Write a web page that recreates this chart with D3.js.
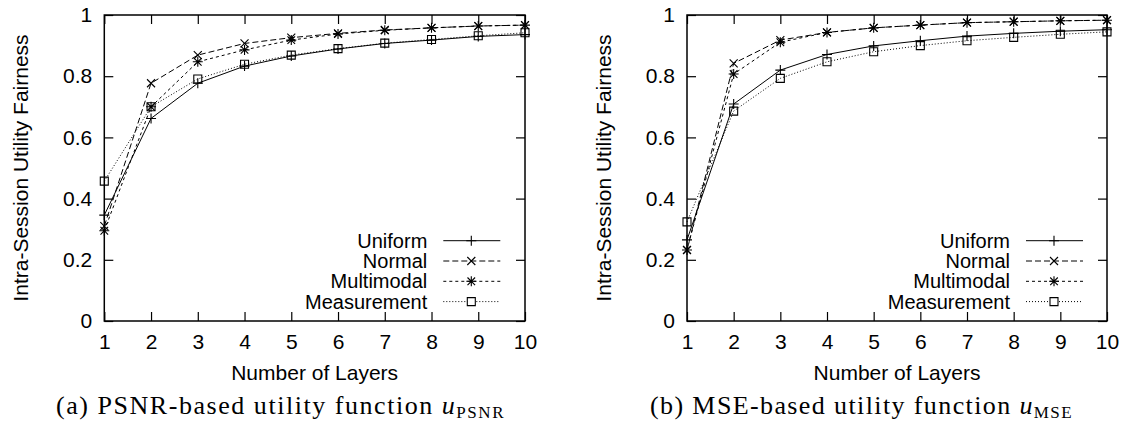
<!DOCTYPE html>
<html>
<head>
<meta charset="utf-8">
<script src="https://cdn.jsdelivr.net/npm/d3@7"></script>
<style>
  html, body { margin: 0; padding: 0; background: #fff; }
  svg { display: block; }
  text { font-family: "Liberation Sans", Arial, Helvetica, sans-serif; fill: #000; }
  text.caption { font-family: "Liberation Serif", "Times New Roman", serif; }
</style>
</head>
<body>
<svg id="chart" width="1127" height="430"></svg>
<script>
// Number of layers on the x axis
const layers = [1, 2, 3, 4, 5, 6, 7, 8, 9, 10];
const seriesNames = ["Uniform", "Normal", "Multimodal", "Measurement"];
const yTickValues = [0, 0.2, 0.4, 0.6, 0.8, 1];

// (a) PSNR-based utility: intra-session utility fairness per layer count
const psnrUniform     = [0.346, 0.662, 0.777, 0.833, 0.866, 0.889, 0.907, 0.918, 0.930, 0.936];
const psnrNormal      = [0.310, 0.777, 0.869, 0.907, 0.926, 0.940, 0.951, 0.958, 0.964, 0.967];
const psnrMultimodal  = [0.295, 0.700, 0.847, 0.886, 0.918, 0.938, 0.950, 0.958, 0.964, 0.967];
const psnrMeasurement = [0.457, 0.700, 0.791, 0.839, 0.869, 0.890, 0.908, 0.920, 0.932, 0.942];

// (b) MSE-based utility
const mseUniform     = [0.265, 0.709, 0.820, 0.871, 0.899, 0.916, 0.931, 0.940, 0.947, 0.952];
const mseNormal      = [0.232, 0.842, 0.918, 0.943, 0.958, 0.967, 0.975, 0.978, 0.981, 0.983];
const mseMultimodal  = [0.232, 0.807, 0.911, 0.943, 0.958, 0.967, 0.975, 0.978, 0.981, 0.983];
const mseMeasurement = [0.324, 0.686, 0.793, 0.847, 0.880, 0.900, 0.916, 0.927, 0.937, 0.945];

// Line / point style per series (gnuplot-like)
const lineStyles = [
  { dash: null,  marker: "plus" },
  { dash: "6,3", marker: "cross" },
  { dash: "3,3", marker: "star" },
  { dash: "1,2", marker: "square" }
];

const markerPaths = {
  plus:   "M-5,0H5M0,-5V5",
  cross:  "M-4,-4L4,4M-4,4L4,-4",
  star:   "M-5,0H5M0,-5V5M-3.8,-3.8L3.8,3.8M-3.8,3.8L3.8,-3.8",
  square: "M-4,-4H4V4H-4Z"
};

const panels = [
  {
    series: [psnrUniform, psnrNormal, psnrMultimodal, psnrMeasurement],
    left: 104.3, right: 525,
    yLabelX: 28,
    caption: { prefix: "(a) PSNR-based utility function ", sub: "PSNR", x: 56, width: 449 }
  },
  {
    series: [mseUniform, mseNormal, mseMultimodal, mseMeasurement],
    left: 687, right: 1107,
    yLabelX: 611,
    caption: { prefix: "(b) MSE-based utility function ", sub: "MSE", x: 650, width: 423 }
  }
];

const plotTop = 15, plotBottom = 321;
const fontSize = 21;
const legendFontSize = 20;
const svg = d3.select("#chart");

panels.forEach(p => {
  const w = p.right - p.left, h = plotBottom - plotTop;
  const x = d3.scaleLinear().domain([1, 10]).range([0, w]);
  const y = d3.scaleLinear().domain([0, 1]).range([h, 0]);

  const g = svg.append("g").attr("transform", `translate(${p.left},${plotTop})`);

  const styleAxis = sel => {
    sel.attr("font-size", fontSize).attr("font-family", null);
    sel.select(".domain").remove();
    sel.selectAll(".tick line").attr("stroke", "#000").attr("stroke-width", 1.2);
  };

  // inward ticks on all four sides
  g.append("g").attr("transform", `translate(0,${h})`)
    .call(d3.axisBottom(x).tickValues(layers).tickSize(-9).tickPadding(13).tickFormat(d3.format("d")))
    .call(styleAxis);
  g.append("g")
    .call(d3.axisTop(x).tickValues(layers).tickSize(-9).tickFormat(""))
    .call(styleAxis);
  g.append("g")
    .call(d3.axisLeft(y).tickValues(yTickValues).tickSize(-9).tickPadding(12)
      .tickFormat(d => (d === 0 || d === 1) ? String(d) : d.toFixed(1)))
    .call(styleAxis);
  g.append("g").attr("transform", `translate(${w},0)`)
    .call(d3.axisRight(y).tickValues(yTickValues).tickSize(-9).tickFormat(""))
    .call(styleAxis);

  // frame
  g.append("rect").attr("x", 0).attr("y", 0).attr("width", w).attr("height", h)
    .attr("fill", "none").attr("stroke", "#000").attr("stroke-width", 1.5);

  const line = d3.line().x(d => x(d.layer)).y(d => y(d.value));

  p.series.forEach((vals, i) => {
    const pts = layers.map((l, k) => ({ layer: l, value: vals[k] }));
    const st = lineStyles[i];
    g.append("path").datum(pts)
      .attr("d", line)
      .attr("fill", "none").attr("stroke", "#000").attr("stroke-width", 1)
      .attr("stroke-dasharray", st.dash);
    g.append("g").selectAll("path").data(pts).join("path")
      .attr("transform", d => `translate(${x(d.layer)},${y(d.value)})`)
      .attr("d", markerPaths[st.marker])
      .attr("fill", "none").attr("stroke", "#000").attr("stroke-width", 1.1);
  });

  // legend
  const lg = g.append("g");
  seriesNames.forEach((name, i) => {
    const ry = 225.7 + i * 20.3;
    const st = lineStyles[i];
    lg.append("text").attr("x", 323).attr("y", ry).attr("dy", "0.35em")
      .attr("text-anchor", "end").attr("font-size", legendFontSize).text(name);
    lg.append("line").attr("x1", 339).attr("x2", 396).attr("y1", ry).attr("y2", ry)
      .attr("stroke", "#000").attr("stroke-width", 1).attr("stroke-dasharray", st.dash);
    lg.append("path").attr("transform", `translate(367,${ry})`)
      .attr("d", markerPaths[st.marker])
      .attr("fill", st.marker === "square" ? "#fff" : "none")
      .attr("stroke", "#000").attr("stroke-width", 1.1);
  });

  // axis titles
  svg.append("text")
    .attr("transform", `translate(${p.yLabelX},${(plotTop + plotBottom) / 2}) rotate(-90)`)
    .attr("text-anchor", "middle").attr("font-size", fontSize)
    .text("Intra-Session Utility Fairness");
  svg.append("text")
    .attr("x", (p.left + p.right) / 2).attr("y", 380)
    .attr("text-anchor", "middle").attr("font-size", fontSize)
    .text("Number of Layers");

  // sub-figure caption
  const cap = svg.append("text").attr("class", "caption")
    .attr("x", p.caption.x).attr("y", 414).attr("font-size", 26);
  cap.append("tspan").text(p.caption.prefix);
  cap.append("tspan").attr("font-style", "italic").text("u");
  cap.append("tspan").attr("font-size", 17).attr("dy", 4).text(p.caption.sub);
  const natural = cap.node().getComputedTextLength();
  const nChars = (p.caption.prefix + "u" + p.caption.sub).length;
  cap.attr("letter-spacing", Math.max(0, (p.caption.width - natural) / nChars));
});
</script>
</body>
</html>
